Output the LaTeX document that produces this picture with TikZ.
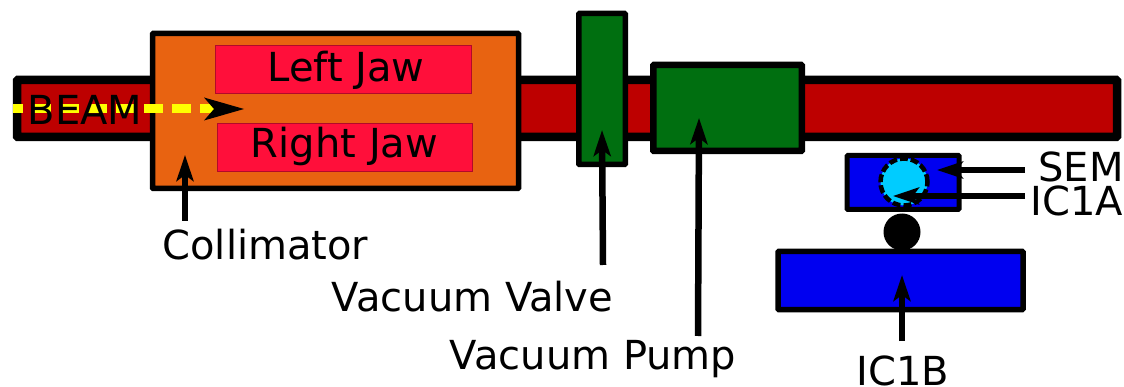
\documentclass[tikz,border=0pt]{standalone}
\usepackage{fontspec}
\setmainfont{DejaVu Sans}
\usetikzlibrary{arrows.meta}
\definecolor{pipered}{HTML}{BD0000}
\definecolor{collorange}{HTML}{E86311}
\definecolor{jawred}{HTML}{FF0F3A}
\definecolor{valvegreen}{HTML}{006F10}
\definecolor{icblue}{HTML}{0000F0}
\definecolor{semcyan}{HTML}{00CCFF}
\definecolor{beamyellow}{HTML}{FFFF00}
\begin{document}
\begin{tikzpicture}[x=1pt,y=-1pt,
			main node/.style = {rectangle,draw=black,inner sep = 0pt,rounded corners=0.8pt},
			jaw node/.style = {rectangle,draw=jawred!70!black,line width=0.7pt,fill=jawred,inner sep = 0pt},
			label node/.style = {inner sep = 0pt,anchor=base,font=\fontsize{40}{43}\selectfont},
			pointer/.style = {line width=6.5pt,-{Stealth[length=26pt,width=17pt,inset=6pt]}}]
			\useasboundingbox (0,0) rectangle (1124,387);
			
			\node[main node,fill=pipered,line width=8.5pt,minimum width=1100pt,minimum height=57pt] (1) at (567,108.5) {};
			\node[main node,fill=collorange,line width=5.5pt,minimum width=366pt,minimum height=155pt] (2) at (335.5,111) {};
			\node[jaw node,minimum width=256pt,minimum height=48pt] (3) at (343,69) {};
			\node[jaw node,minimum width=255pt,minimum height=48pt] (4) at (344.5,147) {};
			\node[main node,fill=valvegreen,line width=5.5pt,minimum width=46.5pt,minimum height=151pt] (5) at (602,89) {};
			\node[main node,fill=valvegreen,line width=6.5pt,minimum width=148.5pt,minimum height=86pt] (6) at (727.5,108) {};
			\node[main node,fill=icblue,line width=5pt,minimum width=112pt,minimum height=54pt] (7) at (903,182.5) {};
			\node[circle,draw=black,dash pattern=on 8pt off 3pt,fill=semcyan,line width=4.5pt,inner sep=0pt,minimum size=47pt] (8) at (904,182) {};
			\node[circle,fill=black,inner sep=0pt,minimum size=37pt] (9) at (902,232) {};
			\node[main node,fill=icblue,line width=5.5pt,minimum width=245pt,minimum height=58pt] (10) at (900.5,280.5) {};
			
			\coordinate (a) at (13,109);
			\coordinate (o) at (214,109);
			\coordinate (b) at (244,109);
			\coordinate (c) at (185,221);
			\coordinate (d) at (185,155);
			\coordinate (e) at (603,265);
			\coordinate (f) at (602,130);
			\coordinate (g) at (698,336);
			\coordinate (h) at (699,118);
			\coordinate (i) at (1025,170);
			\coordinate (j) at (937,170);
			\coordinate (k) at (1025,196);
			\coordinate (l) at (893,196);
			\coordinate (m) at (902,341);
			\coordinate (n) at (902,275);
			
			\draw[beamyellow,line width=9pt,dash pattern=on 19pt off 9pt,dash phase=9pt] (a) -- (o);
			\draw[line width=0pt,-{Stealth[length=40pt,width=23pt,inset=10pt,black]}] (o) -- (b);
			\draw[pointer] (c) -- (d);
			\draw[pointer] (e) -- (f);
			\draw[pointer] (g) -- (h);
			\draw[pointer] (i) -- (j);
			\draw[pointer] (k) -- (l);
			\draw[pointer] (m) -- (n);
			
			\node[label node] (11) at (346,82) {Left Jaw};
			\node[label node] (12) at (344.5,158) {Right Jaw};
			\node[label node] (13) at (85,125) {BEAM};
			\node[label node] (14) at (265.5,260) {Collimator};
			\node[label node] (15) at (472.5,312) {Vacuum Valve};
			\node[label node] (16) at (593,369) {Vacuum Pump};
			\node[label node] (17) at (903,385.5) {IC1B};
			\node[label node] (18) at (1081,182) {SEM};
			\node[label node] (19) at (1077,216) {IC1A};
			
			\end{tikzpicture}
\end{document}
